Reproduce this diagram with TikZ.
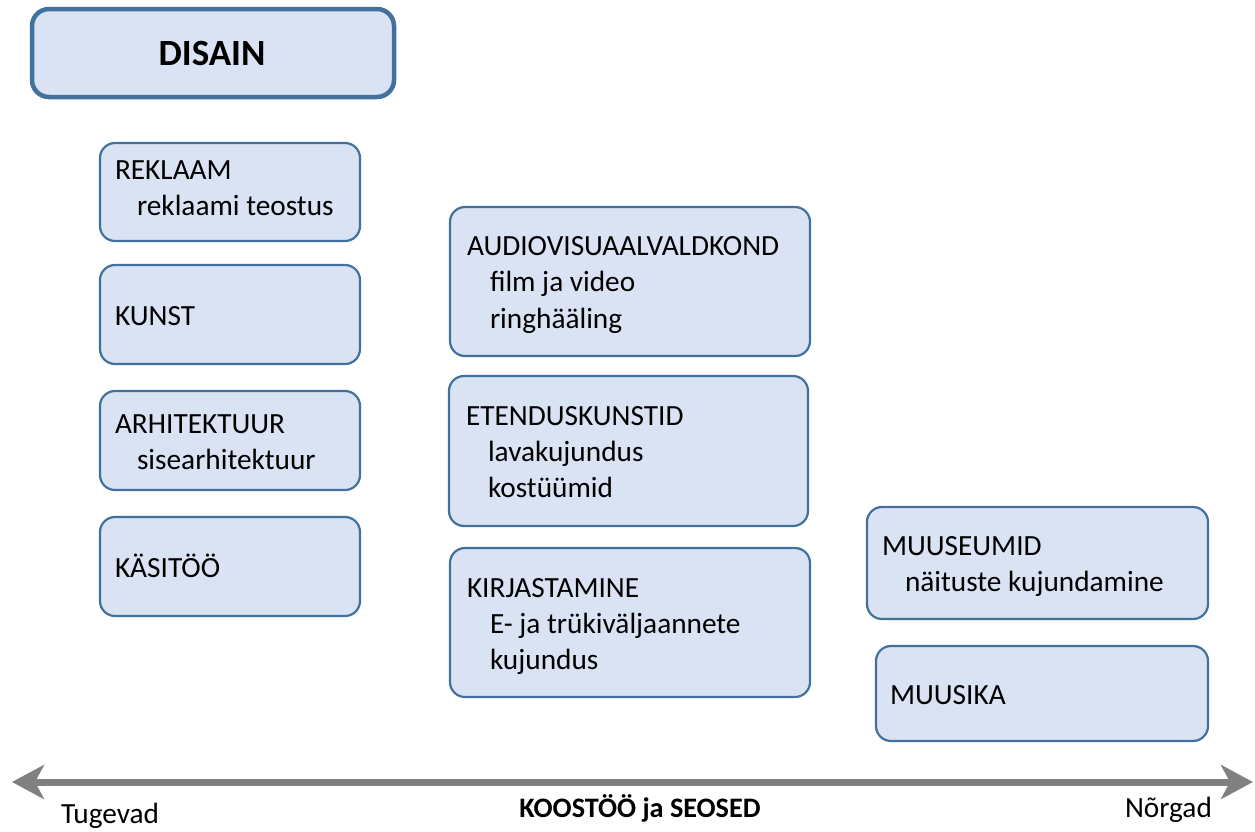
\documentclass[tikz,border=0pt]{standalone}
\usepackage{fontspec}
\setmainfont{Carlito}
\usetikzlibrary{arrows.meta}
\definecolor{bordblue}{HTML}{41719C}
\definecolor{boxfill}{HTML}{DAE3F3}
\definecolor{arrgray}{HTML}{808080}
\begin{document}
\begin{tikzpicture}[x=1pt,y=-1pt,
  box/.style={draw=bordblue, fill=boxfill, line width=2.2pt, rounded corners=15pt, inner sep=0pt, outer sep=0pt},
  bigbox/.style={box, line width=4.5pt, rounded corners=17pt},
  txt/.style={anchor=base west, inner sep=0pt, outer sep=0pt, font=\fontsize{29.3}{35}\selectfont},
  btxt/.style={anchor=base, inner sep=0pt, outer sep=0pt, font=\fontsize{28.2}{34}\selectfont\bfseries}
]
\useasboundingbox (0,0) rectangle (1255,831);
\newcommand{\mybox}[6][box]{%
  \node[#1, minimum width=#4-#2, minimum height=#5-#3] (#6) at ({(#2+#4)/2},{(#3+#5)/2}) {};}
% DISAIN
\mybox[bigbox]{32}{9}{394}{97}{disain}
\node[btxt, font=\fontsize{37}{40}\selectfont\bfseries] (disaintxt) at (212,65) {DISAIN};
% left column
\mybox{100}{143}{360}{241}{reklaam}
\node[txt] (t1a) at (115,179) {REKLAAM};
\node[txt] (t1b) at (137,215) {reklaami teostus};
\mybox{100}{265}{360}{364}{kunst}
\node[txt] (t2a) at (115,325) {KUNST};
\mybox{100}{391}{360}{490}{arhit}
\node[txt] (t3a) at (115,433) {ARHITEKTUUR};
\node[txt] (t3b) at (137,469) {sisearhitektuur};
\mybox{100}{517}{360}{616}{kasitoo}
\node[txt] (t4a) at (115,577) {KÄSITÖÖ};
% middle column
\mybox{450}{207}{810}{356}{audio}
\node[txt] (t5a) at (467,255) {AUDIOVISUAALVALDKOND};
\node[txt] (t5b) at (490,291) {film ja video};
\node[txt] (t5c) at (490,328) {ringhääling};
\mybox{449}{376}{808}{526}{etendus}
\node[txt] (t6a) at (466,425) {ETENDUSKUNSTID};
\node[txt] (t6b) at (488,461) {lavakujundus};
\node[txt] (t6c) at (488,497) {kostüümid};
\mybox{450}{548}{810}{697}{kirjast}
\node[txt] (t7a) at (467,597) {KIRJASTAMINE};
\node[txt] (t7b) at (490,633) {E- ja trükiväljaannete};
\node[txt] (t7c) at (490,669) {kujundus};
% right column
\mybox{867}{507}{1208}{619}{muuseum}
\node[txt] (t8a) at (882,555) {MUUSEUMID};
\node[txt] (t8b) at (905,591) {näituste kujundamine};
\mybox{876}{646}{1208}{741}{muusika}
\node[txt] (t9a) at (890,704) {MUUSIKA};
% axis arrow
\coordinate (L) at (12,782);
\coordinate (R) at (1253,782);
\draw[arrgray, line width=7pt, {Stealth[length=32pt,width=34pt,inset=9pt]}-{Stealth[length=32pt,width=34pt,inset=9pt]}] (L) -- (R);
\node[txt] (tug) at (61,823) {Tugevad};
\node[btxt] (koos) at (640,817) {KOOSTÖÖ ja SEOSED};
\node[txt] (nor) at (1125,817) {Nõrgad};
\end{tikzpicture}
\end{document}
